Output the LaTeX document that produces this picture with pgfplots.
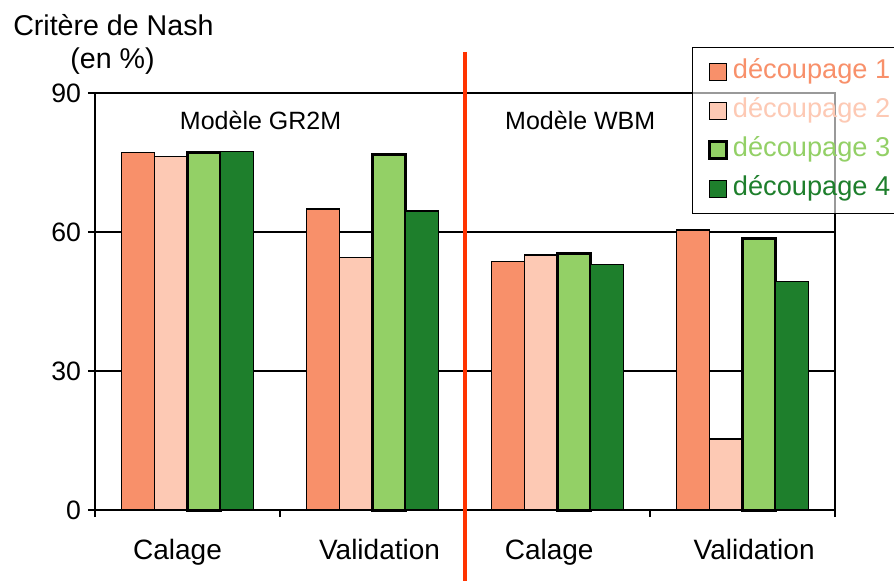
\documentclass[border=0pt]{standalone}
\usepackage{pgfplots}
\pgfplotsset{compat=1.18}
\usepackage{fontspec}
\setmainfont{Liberation Sans}
\definecolor{cA}{HTML}{F8906A}
\definecolor{cB}{HTML}{FDC9B4}
\definecolor{cC}{HTML}{93D066}
\definecolor{cD}{HTML}{1E7F2C}
\definecolor{redline}{HTML}{FF3300}
\pgfplotsset{sq/.style={legend image code/.code={\draw[##1, fill opacity=1, draw opacity=1] (0pt,-4.2pt) rectangle (8.4pt,4.2pt);}}}
\begin{document}
\begin{tikzpicture}
\begin{axis}[
  at={(0,0)}, anchor=south west,
  width=370pt, height=208.5pt, scale only axis,
  xmin=0, xmax=4, ymin=0, ymax=90,
  ybar=0pt, bar width=16.5pt,
  clip=false,
  axis line style={black, line width=0.9pt},
  xtick={0.446,1.538,2.455,3.563},
  xticklabels={Calage,Validation,Calage,Validation},
  minor xtick={0,1,2,3,4},
  ytick={0,30,60,90},
  tick pos=left, tick align=outside,
  major tick length=3.5pt, minor tick length=3.5pt,
  tick style={black, line width=0.8pt},
  major x tick style={draw=none},
  ymajorgrids, grid style={black, line width=0.8pt},
  /pgf/number format/assume math mode=true,
  xticklabel style={font=\fontsize{14}{16}\selectfont, anchor=base, yshift=-21pt},
  yticklabel style={font=\fontsize{13.3}{16}\selectfont},
  legend cell align=left,
  legend style={at={(rel axis cs:0.807,1.110)}, anchor=north west,
    draw=black, line width=0.6pt, fill=white, fill opacity=0.6, text opacity=1,
    font=\fontsize{13.6}{15}\selectfont,
    nodes={inner sep=0pt, text height=9.8pt, text depth=2.8pt},
    row sep=6.9pt, inner xsep=7.7pt, inner ysep=5.8pt},
]
\addplot[fill=cA, draw=black, line width=0.75pt, sq] coordinates {(0.5,77.2) (1.5,65.0) (2.5,53.6) (3.5,60.4)};
\addlegendentry[text=cA]{\hspace{2.5pt}découpage 1}
\addplot[fill=cB, draw=black, line width=0.75pt, sq] coordinates {(0.5,76.3) (1.5,54.5) (2.5,55.0) (3.5,15.3)};
\addlegendentry[text=cB]{\hspace{2.5pt}découpage 2}
\addplot[fill=cC, draw=black, line width=1.5pt, sq] coordinates {(0.5,77.1) (1.5,76.8) (2.5,55.4) (3.5,58.7)};
\addlegendentry[text=cC]{\hspace{2.5pt}découpage 3}
\addplot[fill=cD, draw=black, line width=0.75pt, sq] coordinates {(0.5,77.4) (1.5,64.5) (2.5,53.0) (3.5,49.3)};
\addlegendentry[text=cD]{\hspace{2.5pt}découpage 4}
\draw[redline, line width=2.4pt] (axis cs:2,98.9) -- (axis cs:2,-16);
\node[anchor=base, font=\fontsize{12.5}{15}\selectfont] at (axis cs:0.895,82.2) {Modèle GR2M};
\node[anchor=base, font=\fontsize{12.5}{15}\selectfont] at (axis cs:2.623,82.2) {Modèle WBM};
\end{axis}
\node[anchor=base, font=\fontsize{14.3}{17}\selectfont] at (9.2pt,237.2pt) {Critère de Nash};
\node[anchor=base, font=\fontsize{14.3}{17}\selectfont] at (8.75pt,220.5pt) {(en \%)};
\pgfresetboundingbox
\useasboundingbox (-47.5pt,-35pt) rectangle (399.5pt,255pt);
\end{tikzpicture}
\end{document}
